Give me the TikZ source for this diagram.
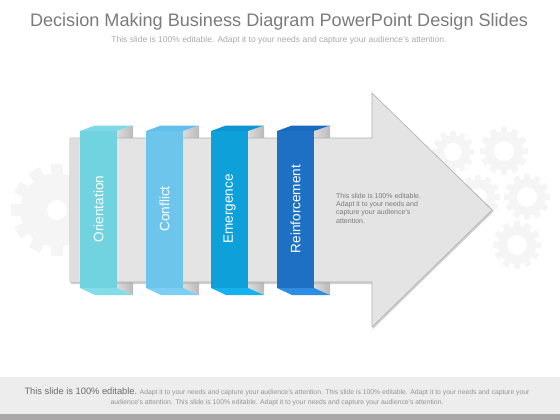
\documentclass[tikz,border=0pt]{standalone}
\usepackage{fontspec}
\setmainfont{Liberation Sans}
\usetikzlibrary{positioning}

\definecolor{titlegray}{HTML}{7B7B7B}
\definecolor{subgray}{HTML}{ABABAB}
\definecolor{arrowfill}{HTML}{E4E4E4}
\definecolor{arrowedge}{HTML}{B0B0B0}
\definecolor{gearfill}{HTML}{F5F5F5}
\definecolor{footband}{HTML}{EDEDED}
\definecolor{footstrip}{HTML}{AAA8A8}
\definecolor{orientfront}{HTML}{72D3E0}
\definecolor{orienttop}{HTML}{7CD9E5}
\definecolor{orientbot}{HTML}{82DDE9}
\definecolor{conflictfront}{HTML}{6EC5EC}
\definecolor{conflicttop}{HTML}{62BFEA}
\definecolor{conflictbot}{HTML}{7CCFF3}
\definecolor{emergefront}{HTML}{0DA0D9}
\definecolor{emergetop}{HTML}{0C95D0}
\definecolor{emergebot}{HTML}{16B2EE}
\definecolor{reinffront}{HTML}{1D70C4}
\definecolor{reinftop}{HTML}{186BBF}
\definecolor{reinfbot}{HTML}{2D8DE3}

% back fold of a ribbon, left x = #1
\newcommand{\ribbonfold}[1]{%
  \shade[left color=black!14,right color=black!27]
    (#1+37,131) -- (#1+53,125.5) -- (#1+53,295) -- (#1+37,288) -- cycle;}
% front of a ribbon: left x, front, top, bottom colour, name, text
\newcommand{\ribbonfront}[6]{%
  \fill[#3] (#1,131) -- (#1+15,125.5) -- (#1+53,125.5) -- (#1+37,131) -- cycle;
  \fill[#4] (#1,288) -- (#1+15,295) -- (#1+53,295) -- (#1+37,288) -- cycle;
  \fill[#2] (#1,131) rectangle (#1+37,288);
  \node[ribbonlabel] (#5) at (#1+18.5,209) {#6};}
% a faint cog: centre x, centre y, outer radius, hole radius
\newcommand{\cog}[4]{%
  \fill[gearfill] (#1,#2) circle[radius=#3*0.8pt];
  \foreach \a in {0,30,...,330}
    \fill[gearfill,shift={(#1,#2)},rotate=\a] (-#3*0.13,0) rectangle (#3*0.13,#3);
  \fill[white] (#1,#2) circle[radius=#4 pt];}

\begin{document}
\begin{tikzpicture}[x=1pt,y=-1pt,
    ribbonlabel/.style={rotate=90,text=white,font=\fontsize{13.6}{15}\selectfont},
    notetext/.style={text=black!52,font=\fontsize{7}{8.3}\selectfont,align=left,inner sep=0pt}]
\tikzstyle{headline}=[text=titlegray,font=\fontsize{18.1}{20}\selectfont,inner sep=0pt]

\useasboundingbox (0,0) rectangle (560,420);
\fill[white] (0,0) rectangle (560,420);

% cogs in the background
\cog{57}{210}{46}{10}
\cog{453}{152}{21}{9}
\cog{504}{151}{24}{10}
\cog{478}{197}{22}{9}
\cog{527}{197}{23}{10}
\cog{517}{245}{24}{10}

% footer
\fill[footband] (0,377) rectangle (560,414);
\fill[footstrip] (0,414) rectangle (560,420);

% titles
\node[headline] (title) at (279,22) {Decision Making Business Diagram PowerPoint Design Slides};
\node[text=subgray,font=\fontsize{8.5}{9}\selectfont,inner sep=0pt]
    (subtitle) [below=6pt of title] {This slide is 100\% editable. Adapt it to your needs and capture your audience's attention.};

% ribbons, back part
\ribbonfold{80}
\ribbonfold{146}
\ribbonfold{211}
\ribbonfold{277}

% big arrow
\fill[black!30,opacity=0.6] (71,139.5) -- (373,139.5) -- (373,94.5) -- (494,211) -- (373,329) -- (373,284) -- (71,284) -- cycle;
\filldraw[fill=arrowfill,draw=arrowedge,line width=0.6pt]
    (70,138) -- (372,138) -- (372,93) -- (492,210) -- (372,327) -- (372,282) -- (70,282) -- cycle;
\fill[black!13] (70,138) rectangle (79,282);

% ribbons, front part
\ribbonfront{80}{orientfront}{orienttop}{orientbot}{orient}{Orientation}
\ribbonfront{146}{conflictfront}{conflicttop}{conflictbot}{conflict}{Conflict}
\ribbonfront{211}{emergefront}{emergetop}{emergebot}{emerge}{Emergence}
\ribbonfront{277}{reinffront}{reinftop}{reinfbot}{reinf}{Reinforcement}

\node[notetext,anchor=north west] (note) at (336,193)
    {This slide is 100\% editable.\\Adapt it to your needs and\\capture your audience's\\attention.};

\node[text=black!42,font=\fontsize{6.8}{10.5}\selectfont,align=center,inner sep=0pt]
    (footer) at (277,397)
    {{\color{black!58}\fontsize{9.3}{10}\selectfont This slide is 100\% editable.} Adapt it to your needs and capture your audience's attention. This slide is 100\% editable. Adapt it to your needs and capture your\\
     audience's attention. This slide is 100\% editable. Adapt it to your needs and capture your audience's attention.};
\end{tikzpicture}
\end{document}
